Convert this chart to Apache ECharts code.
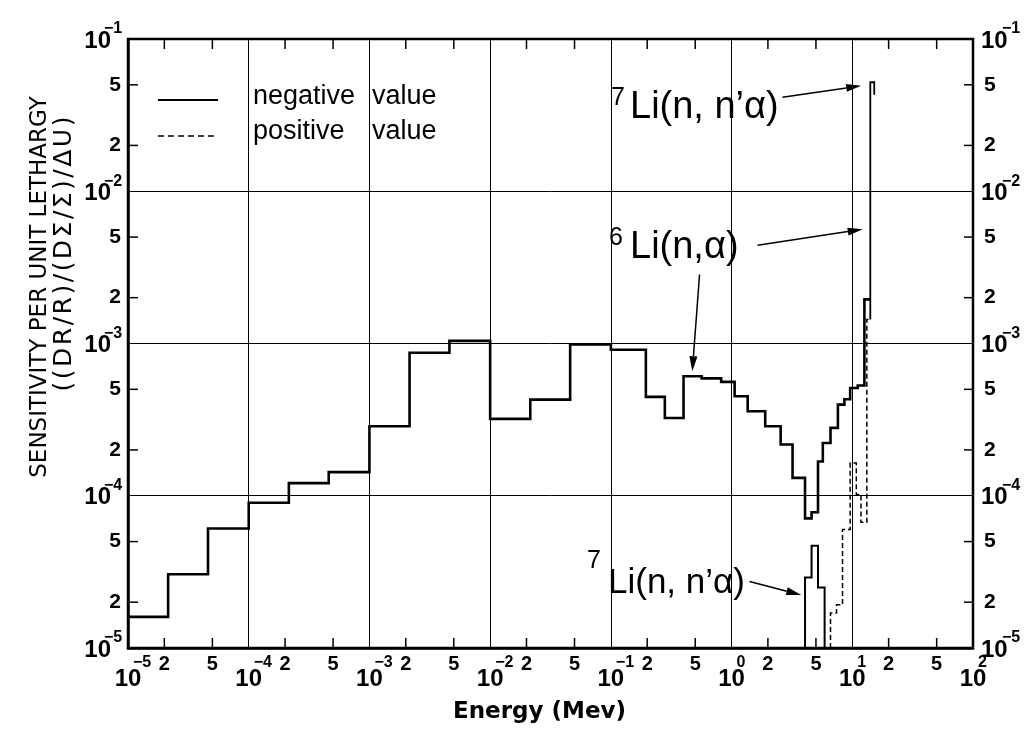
<!DOCTYPE html>
<html>
<head>
<meta charset="utf-8">
<script src="https://cdn.jsdelivr.net/npm/echarts@6/dist/echarts.min.js"></script>
<style>
  html, body { margin: 0; padding: 0; background: #fff; }
  #chart { width: 1030px; height: 735px; }
</style>
</head>
<body>
<div id="chart"></div>
<script>
// Axis ranges (MeV on x, sensitivity on y)
const X_MIN = 1e-5, X_MAX = 1e2;
const Y_MIN = 1e-5, Y_MAX = 1e-1;

// 6Li(n,alpha) negative sensitivity: group boundaries and value per group
const li6Edges = [1e-5, 2.15e-5, 4.6e-5, 1e-4, 2.15e-4, 4.6e-4, 1e-3, 2.15e-3, 4.6e-3, 1e-2,
  2.15e-2, 4.6e-2, 0.1, 0.195, 0.28, 0.4, 0.565, 0.82, 1.06, 1.36, 1.9, 2.55, 3.2, 4.06,
  4.6, 5.2, 5.7, 6.6, 7.6, 8.6, 9.6, 11.1, 12.6, 14.1];
const li6Values = [1.6e-5, 3.05e-5, 6.1e-5, 9.0e-5, 1.21e-4, 1.43e-4, 2.86e-4, 8.7e-4, 1.04e-3,
  3.2e-4, 4.28e-4, 9.85e-4, 9.1e-4, 4.46e-4, 3.24e-4, 6.1e-4, 5.9e-4, 5.6e-4, 4.5e-4, 3.59e-4,
  2.86e-4, 2.17e-4, 1.31e-4, 7.1e-5, 7.8e-5, 1.68e-4, 2.22e-4, 2.79e-4, 3.97e-4, 4.3e-4,
  5.1e-4, 5.3e-4, 1.95e-3];

// 7Li(n,n'alpha) negative part (above threshold)
const li7NegEdges = [4.06, 4.6, 5.2, 5.9];
const li7NegValues = [2.9e-5, 4.7e-5, 2.5e-5];

// 7Li(n,n'alpha) positive part; last group is the 14 MeV source group
const li7PosEdges = [6.6, 7.4, 8.3, 9.6, 10.8, 11.8, 13.2, 14.1, 15.2];
const li7PosValues = [1.7e-5, 1.92e-5, 6.0e-5, 1.64e-4, 1.02e-4, 6.7e-5, 1.44e-3, 5.2e-2];
const li7PosTail = 4.3e-2;

// Tick labels
const xDecades = [-5, -4, -3, -2, -1, 0, 1, 2];
const yDecades = [-5, -4, -3, -2, -1];
const minorMantissas = [2, 5];

// Annotation arrows: [tail, tip] in (MeV, sensitivity)
const arrows = [
  [[2.64, 4.15e-2], [11.85, 4.93e-2]],
  [[1.64, 4.42e-3], [12.2, 5.62e-3]],
  [[0.543, 2.84e-3], [0.473, 6.57e-4]],
  [[1.41, 2.73e-5], [3.78, 2.23e-5]]
];

(function () {
  function stepPoints(edges, values, fromFloor, toFloor) {
    const pts = [];
    if (fromFloor) pts.push([edges[0], Y_MIN]);
    values.forEach((v, i) => { pts.push([edges[i], v]); pts.push([edges[i + 1], v]); });
    if (toFloor) pts.push([edges[edges.length - 1], Y_MIN]);
    return pts;
  }

  const nPos = li7PosValues.length;
  const posDashed = stepPoints(li7PosEdges.slice(0, nPos), li7PosValues.slice(0, nPos - 1), true, false);
  const posSpike = [
    [li7PosEdges[nPos - 1], li7PosValues[nPos - 2]],
    [li7PosEdges[nPos - 1], li7PosValues[nPos - 1]],
    [li7PosEdges[nPos], li7PosValues[nPos - 1]],
    [li7PosEdges[nPos], li7PosTail]
  ];

  const chart = echarts.init(document.getElementById('chart'));

  const lineSeries = (name, data, width, type) => ({
    name, type: 'line', data, showSymbol: false, symbol: 'none', clip: true,
    lineStyle: { color: '#000', width, type: type || 'solid', cap: 'butt', join: 'miter' },
    emphasis: { disabled: true }, silent: true
  });

  chart.setOption({
    animation: false,
    backgroundColor: '#fff',
    grid: { left: 128, right: 57, top: 39, bottom: 87, show: true, borderColor: '#000', borderWidth: 2.5, backgroundColor: 'transparent' },
    xAxis: {
      type: 'log', logBase: 10, min: X_MIN, max: X_MAX,
      axisLine: { show: true, lineStyle: { color: '#000', width: 2.5 } },
      axisTick: { show: false }, axisLabel: { show: false },
      splitLine: { show: true, lineStyle: { color: '#000', width: 1 } }
    },
    yAxis: {
      type: 'log', logBase: 10, min: Y_MIN, max: Y_MAX,
      axisLine: { show: true, lineStyle: { color: '#000', width: 2.5 } },
      axisTick: { show: false }, axisLabel: { show: false },
      splitLine: { show: true, lineStyle: { color: '#000', width: 1 } }
    },
    series: [
      lineSeries('6Li negative', stepPoints(li6Edges, li6Values, false, false), 2.6),
      lineSeries('7Li negative', stepPoints(li7NegEdges, li7NegValues, true, true), 2),
      lineSeries('7Li positive', posDashed, 1.5, [5, 3]),
      lineSeries('7Li positive 14 MeV', posSpike, 1.8)
    ]
  });

  const px = (e, v) => chart.convertToPixel({ gridIndex: 0 }, [e, v]);
  const g = [];
  const numFont = s => 'bold ' + s + 'px "Liberation Sans", Arial, sans-serif';

  function text(x, y, str, font, align, vAlign, extra) {
    g.push(Object.assign({
      type: 'text', x, y, silent: true,
      style: { text: str, font, fill: '#000', align: align || 'center', verticalAlign: vAlign || 'middle' }
    }, extra || {}));
  }
  function line(x1, y1, x2, y2, w, dash) {
    g.push({ type: 'line', silent: true, shape: { x1, y1, x2, y2 },
      style: { stroke: '#000', lineWidth: w, lineDash: dash || null } });
  }

  const [pLeft, pBottom] = px(X_MIN, Y_MIN);
  const [pRight, pTop] = px(X_MAX, Y_MAX);

  // x axis: minor ticks and labels
  xDecades.forEach(d => {
    const xd = px(Math.pow(10, d), Y_MIN)[0];
    text(xd, pBottom + 31, '10', numFont(24));
    text(xd + 5, pBottom + 15, d === 0 ? '0' : (d < 0 ? '\u2212' + (-d) : String(d)), numFont(16), 'left');
    if (d < 2) {
      minorMantissas.forEach(m => {
        const xm = px(m * Math.pow(10, d), Y_MIN)[0];
        line(xm, pBottom, xm, pBottom - 10, 1.5);
        line(xm, pTop, xm, pTop + 10, 1.5);
        text(xm, pBottom + 16, String(m), numFont(20));
      });
    }
  });

  // y axis: minor ticks and labels on both sides
  yDecades.forEach(d => {
    const yd = px(X_MIN, Math.pow(10, d))[1];
    const exp = '\u2212' + (-d);
    text(111, yd + 2, '10', numFont(24), 'right');
    text(104, yd - 10, exp, numFont(16), 'left');
    text(pRight + 8, yd + 2, '10', numFont(24), 'left');
    text(pRight + 29, yd - 10, exp, numFont(16), 'left');
    if (d < -1) {
      minorMantissas.forEach(m => {
        const ym = px(X_MIN, m * Math.pow(10, d))[1];
        line(pLeft, ym, pLeft + 10, ym, 1.5);
        line(pRight, ym, pRight - 9, ym, 1.5);
        text(121, ym, String(m), numFont(21), 'right');
        text(pRight + 11, ym, String(m), numFont(21), 'left');
      });
    }
  });

  // axis titles
  text((pLeft + pRight) / 2 - 11, pBottom + 64, 'Energy (Mev)', 'bold 23px "DejaVu Sans", sans-serif');
  text(40, 287, 'SENSITIVITY PER UNIT LETHARGY', '23px "DejaVu Sans", sans-serif', 'center', 'middle', { rotation: Math.PI / 2 });
  const unitsTitle = '((DR/R)/(D\u03A3/\u03A3)/\u0394U)'.split('').join('\u200A');
  text(64, 254, unitsTitle, '25px "DejaVu Sans", sans-serif', 'center', 'middle', { rotation: Math.PI / 2 });

  // legend
  line(158, 100, 218, 100, 2);
  line(158, 136, 218, 136, 1.5, [6, 4]);
  const LEG_FONT = '27px "Liberation Sans", Arial, sans-serif';
  text(253, 97, 'negative', LEG_FONT, 'left');
  text(372, 97, 'value', LEG_FONT, 'left');
  text(253, 132, 'positive', LEG_FONT, 'left');
  text(372, 132, 'value', LEG_FONT, 'left');

  // reaction labels
  const LAB_FONT = '38px "Liberation Sans", Arial, sans-serif';
  const SUP_FONT = '25px "Liberation Sans", Arial, sans-serif';
  text(618, 98, '7', SUP_FONT, 'center');
  text(630, 108, "Li(n, n\u2019\u03B1)", LAB_FONT, 'left');
  text(616, 238, '6', SUP_FONT, 'center');
  text(630, 248, 'Li(n,\u03B1)', LAB_FONT, 'left');
  text(594, 561, '7', SUP_FONT, 'center');
  text(608, 583, "Li(n, n\u2019\u03B1)", '35px "Liberation Sans", Arial, sans-serif', 'left');

  // arrows
  arrows.forEach(([tail, tip]) => {
    const [x1, y1] = px(tail[0], tail[1]);
    const [x2, y2] = px(tip[0], tip[1]);
    const dx = x2 - x1, dy = y2 - y1, len = Math.hypot(dx, dy);
    const ux = dx / len, uy = dy / len;
    const hl = 15, hw = 4;
    const bx = x2 - ux * hl, by = y2 - uy * hl;
    line(x1, y1, bx, by, 1.5);
    g.push({ type: 'polygon', silent: true,
      shape: { points: [[x2, y2], [bx - uy * hw, by + ux * hw], [bx + uy * hw, by - ux * hw]] },
      style: { fill: '#000' } });
  });

  chart.setOption({ graphic: g });
})();
</script>
</body>
</html>
